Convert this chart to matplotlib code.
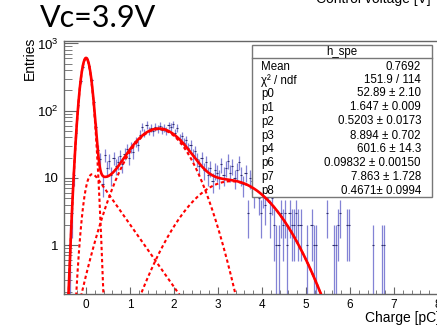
import math
import numpy as np
import matplotlib
matplotlib.use("Agg")
import matplotlib.pyplot as plt
from matplotlib.patches import Rectangle
from matplotlib.ticker import MultipleLocator, FixedLocator, FixedFormatter

plt.rcParams['font.family'] = ['Liberation Sans', 'DejaVu Sans']

# histogram h_spe: 170 bins of 0.05 pC between -0.5 and 8.0
x_lo, x_hi, n_bins = -0.5, 8.0, 170
counts = [
    0, 0, 1, 3, 11, 46, 121, 274, 449, 585,
    596, 458, 283, 133, 58, 26, 19, 8, 22, 14,
    18, 11, 20, 15, 17, 21, 16, 23, 27, 20,
    29, 24, 35, 31, 44, 58, 47, 62, 50, 55,
    49, 57, 54, 60, 52, 56, 50, 61, 58, 63,
    47, 55, 38, 42, 33, 36, 28, 31, 22, 25,
    19, 15, 20, 13, 17, 11, 14, 9, 13, 12,
    10, 16, 11, 14, 18, 12, 15, 10, 13, 17,
    11, 8, 12, 3, 10, 9, 6, 8, 5, 3,
    6, 4, 7, 3, 5, 2, 1, 1, 3, 2,
    3, 1, 3, 2, 2, 3, 2, 2, 0, 0,
    1, 0, 2, 1, 1, 0, 0, 0, 0, 3,
    0, 0, 1, 1, 2, 3, 0, 0, 2, 2,
    0, 0, 0, 0, 0, 0, 0, 0, 0, 0,
    1, 0, 0, 0, 1, 1, 0, 0, 0, 0,
    0, 0, 0, 0, 0, 0, 0, 0, 0, 0,
    0, 0, 0, 0, 0, 0, 0, 0, 0, 0,
]

# fit parameters (from the stats box; p5 = pedestal mean, fixed)
p0, p1, p2, p3, p4 = 52.89, 1.647, 0.5203, 8.894, 601.6
p5, p6, p7, p8 = 0.0, 0.09832, 7.863, 0.4671

stat_names = ["Mean", "\u03c7\u00b2 / ndf", "p0", "p1", "p2", "p3", "p4", "p6", "p7", "p8"]
stat_values = ["0.7692", "151.9 / 114", "52.89 \u00b1 2.10", "1.647 \u00b1 0.009",
               "0.5203 \u00b1 0.0173", "8.894 \u00b1 0.702", "601.6 \u00b1 14.3",
               "0.09832 \u00b1 0.00150", "7.863 \u00b1 1.728", "0.4671\u00b1 0.0994"]

y_ticks = [1, 10, 100, 1000]
y_labels = ["1", "10", r"$\mathregular{10^{2}}$", r"$\mathregular{10^{3}}$"]


def ped(x):
    return p4 * np.exp(-0.5 * ((x - p5) / p6) ** 2)


def expo(x):
    erfc = np.vectorize(math.erfc)
    return (p7 / p8 * np.exp(p6 ** 2 / (2 * p8 ** 2) - x / p8)
            * 0.5 * erfc((p6 / p8 - x / p6) / math.sqrt(2)))


def g1(x):
    return p0 * np.exp(-0.5 * ((x - p1) / p2) ** 2)


def g2(x):
    return p3 * np.exp(-0.5 * ((x - 2 * p1) / (math.sqrt(2) * p2)) ** 2)


W, H = 437, 331
fx = lambda px: px / W
fy = lambda py: 1 - py / H

fig = plt.figure(figsize=(4.37, 3.31), dpi=100)
ax = fig.add_axes([fx(64), fy(293.5), fx(438 - 64), (293.5 - 40.5) / H])

# data points with sqrt(N) error bars
w = (x_hi - x_lo) / n_bins
centers = x_lo + w * (np.arange(n_bins) + 0.5)
n = np.array(counts, dtype=float)
m = n > 0
err = np.sqrt(n[m])
lo = np.clip(n[m] - err, 1e-3, None)
dcol = '#5a5ac8'
ax.vlines(centers[m], lo, n[m] + err, color=dcol, lw=0.9, alpha=0.75, zorder=2)
ax.hlines(n[m], centers[m] - w / 2, centers[m] + w / 2, color='#303070', lw=0.8, zorder=2)

# fit and components
xs = np.linspace(x_lo, x_hi, 2000)
dash = (0, (1.6, 1.3))
for comp in (ped, expo, g1, g2):
    ax.plot(xs, comp(xs), color='red', lw=1.5, ls=dash, zorder=4)
ax.plot(xs, ped(xs) + expo(xs) + g1(xs) + g2(xs), color='red', lw=1.9, zorder=6)

ax.set_yscale('log')
ax.set_xlim(x_lo, x_hi)
ax.set_ylim(0.19, 1105)
ax.xaxis.set_major_locator(MultipleLocator(1))
ax.xaxis.set_minor_locator(MultipleLocator(0.2))
ax.yaxis.set_major_locator(FixedLocator(y_ticks))
ax.yaxis.set_major_formatter(FixedFormatter(y_labels))
minors = [s * 10.0 ** e for e in range(-1, 3) for s in range(2, 10)]
ax.yaxis.set_minor_locator(FixedLocator(minors))
ax.tick_params(which='both', direction='in', color='#666666', top=False, right=False)
ax.tick_params(axis='x', which='major', length=5, labelsize=8.5, pad=4)
ax.tick_params(axis='x', which='minor', length=3)
ax.tick_params(axis='y', which='major', length=10, labelsize=9.5, pad=4)
ax.tick_params(axis='y', which='minor', length=6)
for s in ax.spines.values():
    s.set_color('#666666')
    s.set_linewidth(1.0)
ax.spines['right'].set_visible(False)

# stats box
bx0, bx1, by0, by1 = 252, 432, 45, 197
ax.add_patch(Rectangle((fx(bx0), fy(by1)), fx(bx1 - bx0), (by1 - by0) / H,
                       transform=fig.transFigure, facecolor='white',
                       edgecolor='#777777', lw=1.0, clip_on=False, zorder=5))
ax.plot([fx(bx0), fx(bx1)], [fy(58.3), fy(58.3)], transform=fig.transFigure,
        color='#777777', lw=1.0, clip_on=False, zorder=5)
ax.text(fx(342), fy(51.7), "h_spe", transform=fig.transFigure, ha='center',
        va='center', fontsize=8.3, zorder=5)
row_y = [66.7, 80.3, 93.5, 107.5, 121.5, 135.7, 149.3, 163.3, 177.0, 191.0]
for name, val, ry in zip(stat_names, stat_values, row_y):
    ax.text(fx(261), fy(ry), name, transform=fig.transFigure, ha='left',
            va='center', fontsize=8.3, zorder=5)
    ax.text(fx(421), fy(ry), val, transform=fig.transFigure, ha='right',
            va='center', fontsize=8.3, zorder=5)

# titles
fig.text(fx(40), fy(26.7), "Vc=3.9V", fontsize=22, family='Lato', va='baseline')
fig.text(fx(431), fy(3), "Control voltage [V]", fontsize=10, ha='right', va='baseline')
fig.text(fx(30), fy(37), "Entries", fontsize=10, rotation=90, ha='center', va='top')
fig.text(fx(440), fy(318), "Charge [pC]", fontsize=10, ha='right', va='center')

fig.savefig("out.png", dpi=100)
